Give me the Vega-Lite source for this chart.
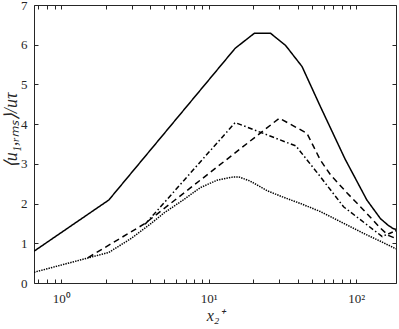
{
  "$schema": "https://vega.github.io/schema/vega-lite/v6.json",
  "width": 362,
  "height": 278,
  "autosize": {"type": "none"},
  "padding": {"left": 34, "top": 5, "right": 3, "bottom": 46},
  "background": "white",
  "config": {
    "view": {"stroke": "#262626", "strokeWidth": 1},
    "font": "Liberation Serif"
  },
  "data": {
    "values": [
      {"s": "a", "x": 0.653, "y": 0.80},
      {"s": "a", "x": 2.1, "y": 2.09},
      {"s": "a", "x": 15.1, "y": 5.91},
      {"s": "a", "x": 20.4, "y": 6.29},
      {"s": "a", "x": 26.2, "y": 6.29},
      {"s": "a", "x": 33.2, "y": 5.98},
      {"s": "a", "x": 42.9, "y": 5.45},
      {"s": "a", "x": 57, "y": 4.45},
      {"s": "a", "x": 84, "y": 3.12},
      {"s": "a", "x": 118, "y": 2.09},
      {"s": "a", "x": 146, "y": 1.62},
      {"s": "a", "x": 165, "y": 1.45},
      {"s": "a", "x": 178, "y": 1.37},
      {"s": "a", "x": 186, "y": 1.35},
      {"s": "b", "x": 3.7, "y": 1.48},
      {"s": "b", "x": 15.1, "y": 4.04},
      {"s": "b", "x": 39, "y": 3.45},
      {"s": "b", "x": 57, "y": 2.68},
      {"s": "b", "x": 82, "y": 1.92},
      {"s": "b", "x": 150, "y": 1.17},
      {"s": "b", "x": 186, "y": 1.32},
      {"s": "c", "x": 1.52, "y": 0.64},
      {"s": "c", "x": 3.7, "y": 1.50},
      {"s": "c", "x": 30.1, "y": 4.15},
      {"s": "c", "x": 46.3, "y": 3.77},
      {"s": "c", "x": 57, "y": 3.10},
      {"s": "c", "x": 67, "y": 2.72},
      {"s": "c", "x": 87, "y": 2.26},
      {"s": "c", "x": 112, "y": 1.84},
      {"s": "c", "x": 146, "y": 1.38},
      {"s": "c", "x": 165, "y": 1.2},
      {"s": "c", "x": 186, "y": 1.12},
      {"s": "d", "x": 0.653, "y": 0.27},
      {"s": "d", "x": 2.1, "y": 0.77},
      {"s": "d", "x": 3.0, "y": 1.13},
      {"s": "d", "x": 4.0, "y": 1.48},
      {"s": "d", "x": 5.0, "y": 1.77},
      {"s": "d", "x": 6.7, "y": 2.09},
      {"s": "d", "x": 8.75, "y": 2.40},
      {"s": "d", "x": 11.4, "y": 2.59},
      {"s": "d", "x": 14.7, "y": 2.67},
      {"s": "d", "x": 16, "y": 2.67},
      {"s": "d", "x": 19, "y": 2.57},
      {"s": "d", "x": 25, "y": 2.32},
      {"s": "d", "x": 32, "y": 2.16},
      {"s": "d", "x": 42, "y": 2.0},
      {"s": "d", "x": 57, "y": 1.8},
      {"s": "d", "x": 67, "y": 1.67},
      {"s": "d", "x": 91, "y": 1.42},
      {"s": "d", "x": 112, "y": 1.25},
      {"s": "d", "x": 146, "y": 1.05},
      {"s": "d", "x": 186, "y": 0.86}
    ]
  },
  "layer": [
    {
      "mark": {"type": "line", "color": "black", "clip": true, "strokeCap": "butt"},
      "encoding": {
        "x": {
          "field": "x", "type": "quantitative",
          "scale": {"type": "log", "domain": [0.653, 186], "nice": false},
          "axis": {
            "orient": "bottom",
            "title": "x₂⁺",
            "values": [0.7, 0.8, 0.9, 1, 2, 3, 4, 5, 6, 7, 8, 9, 10, 20, 30, 40, 50, 60, 70, 80, 90, 100],
            "labelExpr": "datum.value == 1 ? '10⁰' : datum.value == 10 ? '10¹' : datum.value == 100 ? '10²' : ''",
            "domain": false, "grid": false, "ticks": true, "zindex": 1,
            "tickColor": "#262626", "tickWidth": 1, "tickSize": 4, "offset": -4,
            "labelColor": "#262626", "labelFont": "Liberation Serif", "labelFontSize": 13,
            "labelOverlap": false, "labelBound": false, "labelFlush": false,
            "labelPadding": 9,
            "titleColor": "#262626", "titleFont": "Liberation Serif", "titleFontSize": 16,
            "titleFontStyle": "italic", "titleFontWeight": "normal",
            "titlePadding": 2
          }
        },
        "y": {
          "field": "y", "type": "quantitative",
          "scale": {"domain": [0, 7], "nice": false},
          "axis": {
            "orient": "left",
            "title": "⟨u₁,ᵣₘₛ⟩/uτ",
            "values": [0, 1, 2, 3, 4, 5, 6, 7],
            "domain": false, "grid": false, "ticks": true, "zindex": 1,
            "tickColor": "#262626", "tickWidth": 1, "tickSize": 4, "offset": -4,
            "labelColor": "#262626", "labelFont": "Liberation Serif", "labelFontSize": 13,
            "labelOverlap": false, "labelBound": false, "labelFlush": false,
            "labelPadding": 7,
            "titleColor": "#262626", "titleFont": "Liberation Serif", "titleFontSize": 18,
            "titleFontStyle": "italic", "titleFontWeight": "normal",
            "titleY": 125,
            "titlePadding": 0
          }
        },
        "strokeDash": {
          "field": "s", "type": "nominal",
          "scale": {"domain": ["a", "b", "c", "d"], "range": [[1, 0], [5, 2.5, 1.5, 2.5], [6, 4], [1.4, 1.1]]},
          "legend": null
        },
        "strokeWidth": {
          "field": "s", "type": "nominal",
          "scale": {"domain": ["a", "b", "c", "d"], "range": [1.5, 1.5, 1.5, 2.1]},
          "legend": null
        }
      }
    },
    {
      "mark": {"type": "line", "opacity": 0},
      "encoding": {
        "x": {
          "field": "x", "type": "quantitative",
          "axis": {
            "orient": "top", "title": null, "labels": false,
            "values": [0.7, 0.8, 0.9, 1, 2, 3, 4, 5, 6, 7, 8, 9, 10, 20, 30, 40, 50, 60, 70, 80, 90, 100],
            "domain": false, "grid": false, "ticks": true, "zindex": 1,
            "tickColor": "#262626", "tickWidth": 1, "tickSize": 4, "offset": -4
          }
        },
        "y": {
          "field": "y", "type": "quantitative",
          "axis": {
            "orient": "right", "title": null, "labels": false,
            "values": [0, 1, 2, 3, 4, 5, 6, 7],
            "domain": false, "grid": false, "ticks": true, "zindex": 1,
            "tickColor": "#262626", "tickWidth": 1, "tickSize": 4, "offset": -4
          }
        },
        "detail": {"field": "s", "type": "nominal"}
      }
    }
  ],
  "resolve": {"axis": {"x": "independent", "y": "independent"}}
}
